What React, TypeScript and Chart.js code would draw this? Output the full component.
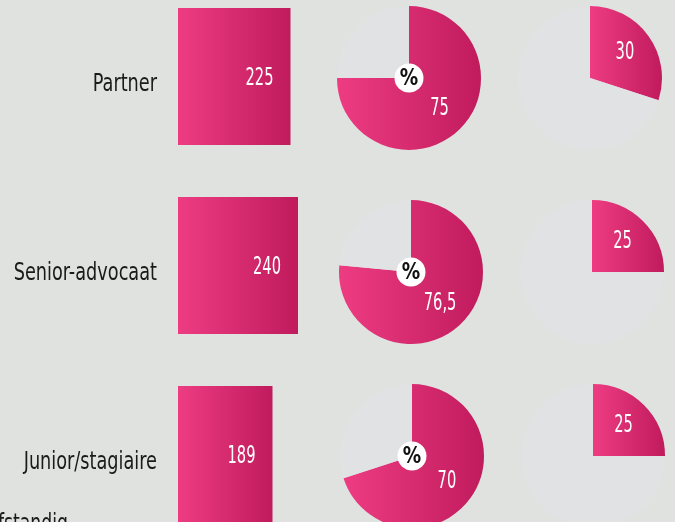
import React, { useEffect, useRef } from "react";
import { Chart, registerables } from "chart.js";

Chart.register(...registerables);

// ---- data ----
const categories = ["Partner", "Senior-advocaat", "Junior/stagiaire"];
const barValues = [225, 240, 189];
const pieShares = [75, 76.5, 70];
const sliceShares = [30, 25, 25];
const footLabel = "Zelfstandig";

// ---- styles ----
const FONT = "'DejaVu Sans Condensed', 'Liberation Sans Narrow', sans-serif";
const PINK_L = "#ee3c82";
const PINK_R = "#c01b5d";
const GREY = "#e1e2e3";
const BG = "#dfe2de";
const TEXT = "#1a1a1a";
const W = 675;
const H = 522;
const BAR_LEFT = 178;
const BAR_TOP = -18;
const BAR_H = 567;
const PIE_SIZE = 150;
const pieCenters = [
  [[409, 78], [589.5, 78]],
  [[411, 272], [591.5, 272]],
  [[412, 456], [592.5, 456]],
];

const fmt = (v: number) => String(v).replace(".", ",");

function drawText(
  ctx: CanvasRenderingContext2D,
  text: string,
  x: number,
  y: number,
  font: string,
  sx: number,
  align: CanvasTextAlign,
  color: string
) {
  ctx.save();
  ctx.translate(x, y);
  ctx.scale(sx, 1);
  ctx.font = font;
  ctx.fillStyle = color;
  ctx.textAlign = align;
  ctx.textBaseline = "middle";
  ctx.fillText(text, 0, 0);
  ctx.restore();
}

function BarChart() {
  const ref = useRef<HTMLCanvasElement | null>(null);
  useEffect(() => {
    if (!ref.current) return;
    const labelPlugin = {
      id: "barLabels",
      afterDatasetsDraw(chart: any) {
        const ctx = chart.ctx;
        const meta = chart.getDatasetMeta(0);
        const ys = chart.scales.y;
        const left = chart.chartArea.left;
        chart.data.labels.forEach((lab: string, i: number) => {
          drawText(ctx, lab, left - 21, ys.getPixelForValue(i) + 8, `24px ${FONT}`, 0.82, "right", TEXT);
        });
        meta.data.forEach((el: any, i: number) => {
          drawText(ctx, fmt(barValues[i]), el.x - 17, el.y + 2, `24px ${FONT}`, 0.68, "right", "#ffffff");
        });
      },
    };
    const chart = new Chart(ref.current, {
      type: "bar",
      data: {
        labels: categories,
        datasets: [
          {
            data: barValues,
            borderWidth: 0,
            backgroundColor: (c: any) => {
              const ch = c.chart;
              const xs = ch.scales && ch.scales.x;
              if (!xs || c.dataIndex == null) return PINK_L;
              const x0 = xs.getPixelForValue(0);
              const x1 = xs.getPixelForValue(barValues[c.dataIndex]);
              if (!isFinite(x0) || !isFinite(x1)) return PINK_L;
              const g = ch.ctx.createLinearGradient(x0, 0, x1, 0);
              g.addColorStop(0, PINK_L);
              g.addColorStop(1, PINK_R);
              return g;
            },
            barPercentage: 1,
            categoryPercentage: 137 / 189,
          },
        ],
      },
      options: {
        indexAxis: "y",
        animation: false,
        responsive: true,
        maintainAspectRatio: false,
        layout: { padding: { left: BAR_LEFT, top: 0, right: 0, bottom: 0 } },
        plugins: { legend: { display: false }, tooltip: { enabled: false } },
        scales: {
          x: { display: false, min: 0, max: (W - BAR_LEFT) * 2 },
          y: { display: false },
        },
      },
      plugins: [labelPlugin],
    } as any);
    return () => chart.destroy();
  }, []);
  return (
    <div style={{ position: "absolute", left: 0, top: BAR_TOP, width: W, height: BAR_H }}>
      <canvas ref={ref} />
    </div>
  );
}

function PieChart({ share, cx, cy, withPercent }: { share: number; cx: number; cy: number; withPercent: boolean }) {
  const ref = useRef<HTMLCanvasElement | null>(null);
  useEffect(() => {
    if (!ref.current) return;
    const labelPlugin = {
      id: "pieLabels",
      afterDatasetsDraw(chart: any) {
        const ctx = chart.ctx;
        const el: any = chart.getDatasetMeta(0).data[0];
        if (!el) return;
        const mid = (el.startAngle + el.endAngle) / 2;
        const r = el.outerRadius * 0.6;
        drawText(
          ctx,
          fmt(share),
          el.x + Math.cos(mid) * r,
          el.y + Math.sin(mid) * r,
          `24px ${FONT}`,
          0.68,
          "center",
          "#ffffff"
        );
        if (withPercent) {
          ctx.save();
          ctx.beginPath();
          ctx.arc(el.x, el.y, 14.5, 0, Math.PI * 2);
          ctx.fillStyle = "#ffffff";
          ctx.fill();
          ctx.restore();
          drawText(ctx, "%", el.x, el.y + 1, `bold 23px 'DejaVu Sans', sans-serif`, 0.8, "center", "#111111");
        }
      },
    };
    const chart = new Chart(ref.current, {
      type: "pie",
      data: {
        labels: ["a", "b"],
        datasets: [
          {
            data: [share, 100 - share],
            borderWidth: 0,
            backgroundColor: (c: any) => {
              if (c.dataIndex !== 0) return GREY;
              const area = c.chart.chartArea;
              if (!area) return PINK_L;
              const ccx = (area.left + area.right) / 2;
              const rad = Math.min(area.right - area.left, area.bottom - area.top) / 2;
              const a0 = -Math.PI / 2;
              const a1 = a0 + (share / 100) * Math.PI * 2;
              let xmin = Math.min(ccx, ccx + rad * Math.cos(a1));
              let xmax = Math.max(ccx, ccx + rad * Math.cos(a1));
              if (a0 < 0 && a1 > 0) xmax = ccx + rad;
              if (a1 > Math.PI) xmin = ccx - rad;
              const g = c.chart.ctx.createLinearGradient(xmin, 0, xmax, 0);
              g.addColorStop(0, PINK_L);
              g.addColorStop(1, PINK_R);
              return g;
            },
          },
        ],
      },
      options: {
        animation: false,
        responsive: true,
        maintainAspectRatio: false,
        layout: { padding: 3 },
        plugins: { legend: { display: false }, tooltip: { enabled: false } },
      },
      plugins: [labelPlugin],
    } as any);
    return () => chart.destroy();
  }, [share, withPercent]);
  return (
    <div
      style={{
        position: "absolute",
        left: cx - PIE_SIZE / 2,
        top: cy - PIE_SIZE / 2,
        width: PIE_SIZE,
        height: PIE_SIZE,
      }}
    >
      <canvas ref={ref} />
    </div>
  );
}

export default function App() {
  return (
    <div
      style={{
        position: "fixed",
        left: 0,
        top: 0,
        width: W,
        height: H,
        overflow: "hidden",
        background: BG,
      }}
    >
      <BarChart />
      {categories.map((c, i) => (
        <React.Fragment key={c}>
          <PieChart share={pieShares[i]} cx={pieCenters[i][0][0]} cy={pieCenters[i][0][1]} withPercent={true} />
          <PieChart share={sliceShares[i]} cx={pieCenters[i][1][0]} cy={pieCenters[i][1][1]} withPercent={false} />
        </React.Fragment>
      ))}
      <div
        style={{
          position: "absolute",
          left: -232,
          width: 300,
          top: 509,
          textAlign: "right",
          fontFamily: FONT,
          fontSize: 24,
          lineHeight: "28px",
          color: TEXT,
          whiteSpace: "nowrap",
          transform: "scaleX(0.8)",
          transformOrigin: "right center",
        }}
      >
        {footLabel}
      </div>
    </div>
  );
}
